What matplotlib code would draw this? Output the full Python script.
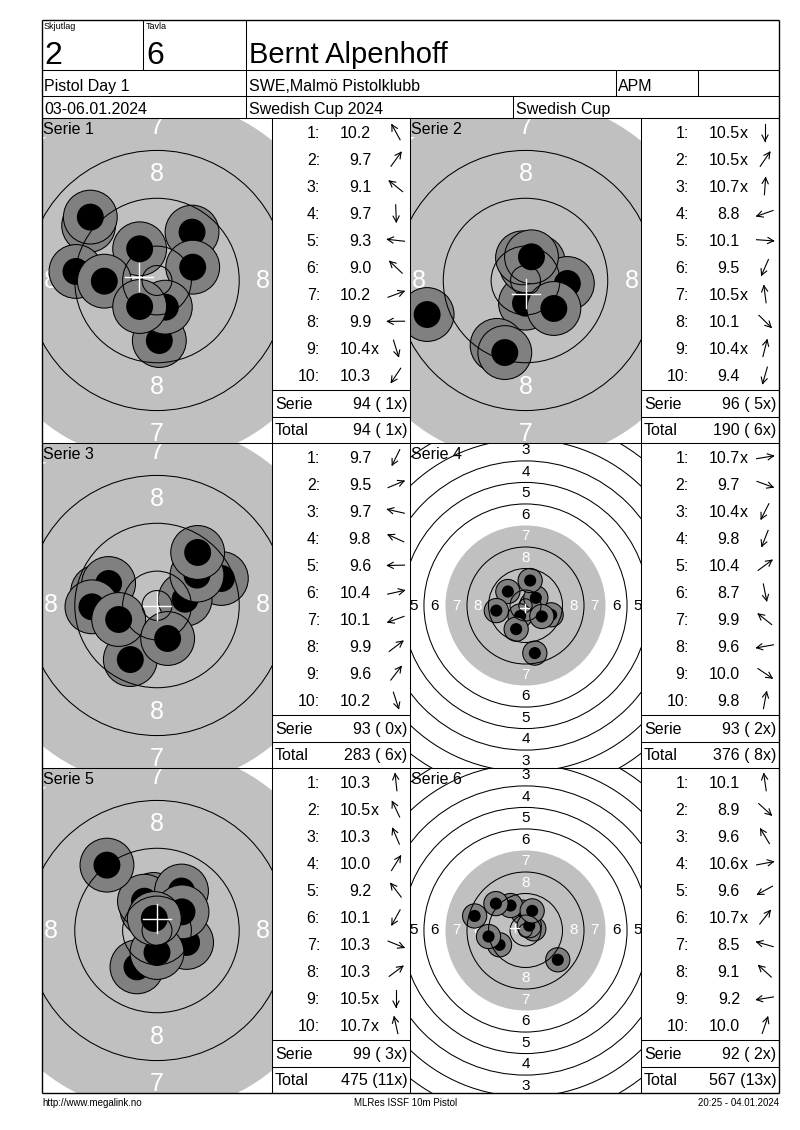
import math
import matplotlib
matplotlib.use("Agg")
import matplotlib.pyplot as plt
from matplotlib.patches import Circle, Rectangle

plt.rcParams["font.family"] = ["Liberation Sans", "DejaVu Sans"]

# ---------------------------------------------------------------
# header data
# ---------------------------------------------------------------
SQUAD_LABEL, SQUAD = "Skjutlag", "2"
LANE_LABEL, LANE = "Tavla", "6"
SHOOTER = "Bernt Alpenhoff"
EVENT = "Pistol Day 1"
CLUB = "SWE,Malmö Pistolklubb"
CLASS = "APM"
DATES = "03-06.01.2024"
COMPETITION = "Swedish Cup 2024"
CUP = "Swedish Cup"
FOOTER_LEFT = "http://www.megalink.no"
FOOTER_MID = "MLRes ISSF 10m Pistol"
FOOTER_RIGHT = "20:25 - 04.01.2024"

# ---------------------------------------------------------------
# series data (shot positions in mm from target centre, y up)
# ---------------------------------------------------------------
SERIES = ["Serie 1", "Serie 2", "Serie 3", "Serie 4", "Serie 5", "Serie 6"]

SCORES = [
    [10.2, 9.7, 9.1, 9.7, 9.3, 9.0, 10.2, 9.9, 10.4, 10.3],
    [10.5, 10.5, 10.7, 8.8, 10.1, 9.5, 10.5, 10.1, 10.4, 9.4],
    [9.7, 9.5, 9.7, 9.8, 9.6, 10.4, 10.1, 9.9, 9.6, 10.2],
    [10.7, 9.7, 10.4, 9.8, 10.4, 8.7, 9.9, 9.6, 10.0, 9.8],
    [10.3, 10.5, 10.3, 10.0, 9.2, 10.1, 10.3, 10.3, 10.5, 10.7],
    [10.1, 8.9, 9.6, 10.6, 9.6, 10.7, 8.5, 9.1, 9.2, 10.0],
]
INNER_TEN = [
    [0, 0, 0, 0, 0, 0, 0, 0, 1, 0],
    [1, 1, 1, 0, 0, 0, 1, 0, 1, 0],
    [0, 0, 0, 0, 0, 0, 0, 0, 0, 0],
    [1, 0, 1, 0, 0, 0, 0, 0, 0, 0],
    [0, 1, 0, 0, 0, 0, 0, 0, 1, 1],
    [0, 0, 0, 1, 0, 1, 0, 0, 0, 0],
]
SHOT_X = [
    [-2.90, 5.86, -11.43, 0.39, -13.55, -11.15, 5.97, -8.81, 1.39, -2.90],
    [0.00, 2.12, 0.17, -16.45, 7.00, -4.75, -0.50, 4.74, 1.00, -3.46],
    [-4.46, 10.76, -9.93, -8.09, -10.88, 4.70, -6.41, 6.69, 6.80, 1.78],
    [2.40, 9.53, -2.00, -3.47, 3.85, 3.47, -6.56, -10.85, 6.06, 1.73],
    [-0.56, -1.67, -2.10, 4.10, -8.37, -3.35, 4.95, 4.18, 0.00, -0.45],
    [-0.99, 12.00, -5.57, 3.09, -9.65, 1.40, -18.90, -11.00, -13.74, 2.48],
]
SHOT_Y = [
    [5.30, 8.09, 9.20, -10.04, 1.51, 10.60, 2.23, -0.11, -4.46, -4.35],
    [-3.79, 3.12, 2.45, -5.69, -0.50, -10.85, 3.79, -4.68, 3.96, -12.05],
    [-9.04, 4.52, 2.29, 3.68, -0.22, 1.05, -2.34, 5.08, 8.87, -5.52],
    [0.40, -3.47, -3.90, -8.79, 2.85, -17.70, 5.20, -1.90, -4.08, 9.28],
    [5.19, 3.51, 4.90, 6.60, 10.93, -6.08, -2.00, 3.12, -3.68, 2.01],
    [6.81, -10.89, 9.28, 0.60, -5.32, 1.80, 5.40, 10.00, -2.23, 7.30],
]
CROSS_X = [-2.96, 0.06, 0.00, -0.37, 0.00, -4.08]
CROSS_Y = [0.56, -2.18, -0.06, -1.00, 2.00, 0.87]
WIDE_VIEW = [False, False, False, True, False, True]

# ---------------------------------------------------------------
# page geometry (pixels, y down)
# ---------------------------------------------------------------
W, H = 800, 1130
LEFT, RIGHT, TOP, BOTTOM = 42, 779, 20, 1093
BLOCK_TOPS = [118, 443, 768]
BLOCK_H = 325
COLS = [(42, 272, 410), (410, 641, 779)]   # target left, table left, table right

fig = plt.figure(figsize=(W / 100, H / 100), dpi=100)
fig.patch.set_facecolor("white")

LW = 0.75


def draw_target(k, x0, y0, w, h):
    ax = fig.add_axes([x0 / W, 1 - (y0 + h) / H, w / W, h / H])
    wide = WIDE_VIEW[k]
    s = 2.69 if wide else 5.98          # px per mm
    hw, hh = w / 2 / s, h / 2 / s
    ax.set_xlim(-hw, hw)
    ax.set_ylim(-hh, hh)
    ax.axis("off")

    # black (here gray) aiming area = 7 ring
    ax.add_patch(Circle((0, 0), 29.75 if wide else 30.3, fc="#c0c0c0",
                        ec="none", zorder=1))
    for ring in range(1, 11):
        if ring == 7:
            continue
        r = 5.75 + (10 - ring) * 8
        ax.add_patch(Circle((0, 0), r, fill=False, ec="black", lw=LW, zorder=5))
    ax.add_patch(Circle((0, 0), 2.5, fill=False, ec="black", lw=LW, zorder=5))

    labels = range(3, 9) if wide else (7, 8)
    fs = 11 if wide else 18
    for n in labels:
        r = 1.75 + (10 - n) * 8
        col = "white" if n >= 7 else "black"
        for dx, dy in [(0, r), (0, -r), (-r, 0), (r, 0)]:
            # only labels whose centre falls inside the panel
            if abs(dx) > hw or abs(dy) > hh:
                continue
            ax.text(dx, dy, str(n), ha="center", va="center", fontsize=fs,
                    color=col, zorder=1.5, clip_on=True)

    for i, (x, y) in enumerate(zip(SHOT_X[k], SHOT_Y[k])):
        z = 2 + i * 0.02
        ax.add_patch(Circle((x, y), 4.5, fc="#808080", ec="black", lw=LW, zorder=z))
        ax.add_patch(Circle((x, y), 2.25, fc="black", ec="none", zorder=z + 0.01))

    cl = 1.5 if wide else 2.35
    cx, cy = CROSS_X[k], CROSS_Y[k]
    ax.plot([cx - cl, cx + cl], [cy, cy], color="white", lw=1.0, zorder=6)
    ax.plot([cx, cx], [cy - cl, cy + cl], color="white", lw=1.0, zorder=6)


for k in range(6):
    row, col = divmod(k, 2)
    tx0, tab0, tab1 = COLS[col]
    draw_target(k, tx0, BLOCK_TOPS[row], tab0 - tx0, BLOCK_H)

# overlay for frame, tables and text
pg = fig.add_axes([0, 0, 1, 1])
pg.set_xlim(0, W)
pg.set_ylim(H, 0)
pg.axis("off")
pg.patch.set_alpha(0)


def hline(y, x0, x1, lw=LW):
    pg.plot([x0, x1], [y, y], color="black", lw=lw, solid_capstyle="butt")


def vline(x, y0, y1, lw=LW):
    pg.plot([x, x], [y0, y1], color="black", lw=lw, solid_capstyle="butt")


# gray box behind series label in zoomed views
for k in range(6):
    row, col = divmod(k, 2)
    if not WIDE_VIEW[k]:
        pg.add_patch(Rectangle((COLS[col][0], BLOCK_TOPS[row]), 55, 19,
                               fc="#c0c0c0", ec="none", zorder=0.5))

# frame
hline(TOP, LEFT, RIGHT, 1.0)
hline(BOTTOM, LEFT, RIGHT, 1.0)
vline(LEFT, TOP, BOTTOM, 1.0)
vline(RIGHT, TOP, BOTTOM, 1.0)
for y in (70, 96, 118, 443, 768):
    hline(y, LEFT, RIGHT)
vline(143, TOP, 70)
vline(246, TOP, 118)
vline(616, 70, 96)
vline(698, 70, 96)
vline(513, 96, 118)
for x in (272, 410, 641):
    vline(x, 118, BOTTOM)

# header text
pg.text(44, 22, SQUAD_LABEL, fontsize=6.5, va="top", ha="left")
pg.text(146, 22, LANE_LABEL, fontsize=6.5, va="top", ha="left")
pg.text(44, 64, SQUAD, fontsize=23, va="baseline", ha="left")
pg.text(146, 64, LANE, fontsize=23, va="baseline", ha="left")
pg.text(249, 63, SHOOTER, fontsize=21, va="baseline", ha="left")
HFS = 11.5
pg.text(44, 91, EVENT, fontsize=HFS, va="baseline")
pg.text(249, 91, CLUB, fontsize=HFS, va="baseline")
pg.text(618, 91, CLASS, fontsize=HFS, va="baseline")
pg.text(44, 114, DATES, fontsize=HFS, va="baseline")
pg.text(249, 114, COMPETITION, fontsize=HFS, va="baseline")
pg.text(516, 114, CUP, fontsize=HFS, va="baseline")

# footer
pg.text(LEFT, 1106, FOOTER_LEFT, fontsize=7, va="baseline", ha="left")
pg.text(406, 1106, FOOTER_MID, fontsize=7, va="baseline", ha="center")
pg.text(RIGHT, 1106, FOOTER_RIGHT, fontsize=7, va="baseline", ha="right")


def arrow(cx, cy, theta, L=17, head=6.5, spread=math.radians(28)):
    ux, uy = math.cos(theta), -math.sin(theta)
    tip = (cx + ux * L / 2, cy + uy * L / 2)
    tail = (cx - ux * L / 2, cy - uy * L / 2)
    pg.plot([tail[0], tip[0]], [tail[1], tip[1]], color="black", lw=0.8)
    for sgn in (1, -1):
        a = math.atan2(uy, ux) + math.pi + sgn * spread
        pg.plot([tip[0], tip[0] + head * math.cos(a)],
                [tip[1], tip[1] + head * math.sin(a)], color="black", lw=0.8)


TFS = 11.5
running, running_x = 0, 0
for k in range(6):
    row, col = divmod(k, 2)
    tx0, t0, t1 = COLS[col]
    top = BLOCK_TOPS[row]

    pg.text(tx0 + 1, top + 16, SERIES[k], fontsize=TFS, va="baseline", ha="left", zorder=3)

    for i, sc in enumerate(SCORES[k]):
        base = top + 20.3 + 27 * i
        pg.text(t0 + 48, base, f"{i + 1}:", fontsize=TFS, va="baseline", ha="right")
        pg.text(t0 + 99, base, f"{sc:.1f}", fontsize=TFS, va="baseline", ha="right")
        if INNER_TEN[k][i]:
            pg.text(t0 + 99, base, "x", fontsize=TFS, va="baseline", ha="left")
        theta = math.atan2(SHOT_Y[k][i], SHOT_X[k][i])
        arrow(t0 + 124, base - 6, theta)

    hline(top + 272, t0, t1)
    hline(top + 299, t0, t1)

    serie_sum = sum(int(s) for s in SCORES[k])
    serie_x = sum(INNER_TEN[k])
    running += serie_sum
    running_x += serie_x
    pg.text(t0 + 3, top + 291.3, "Serie", fontsize=TFS, va="baseline")
    pg.text(t0 + 135.5, top + 291.3, f"{serie_sum} ({serie_x:2d}x)",
            fontsize=TFS, va="baseline", ha="right")
    pg.text(t0 + 3, top + 317, "Total", fontsize=TFS, va="baseline")
    pg.text(t0 + 135.5, top + 317, f"{running} ({running_x:2d}x)",
            fontsize=TFS, va="baseline", ha="right")

fig.savefig("out.png", dpi=100, facecolor="white")
